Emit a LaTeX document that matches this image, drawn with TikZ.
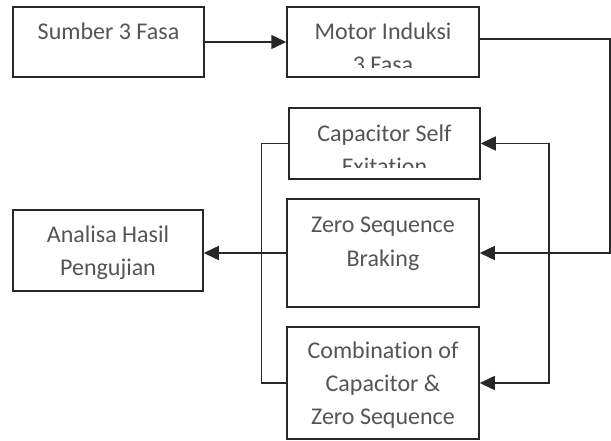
\documentclass[tikz,border=0pt]{standalone}
\usepackage{fontspec}
\setmainfont{Carlito}[Ligatures={NoCommon}]
\usetikzlibrary{arrows.meta,calc}
\definecolor{txt}{RGB}{85,85,85}
\definecolor{ln}{RGB}{40,40,40}
\tikzset{
  box/.style={draw=ln,line width=1.5pt,rectangle,inner sep=0pt},
  lbl/.style={anchor=base,inner sep=0pt,text=txt,font=\fontsize{24}{33}\selectfont},
  conn/.style={draw=ln,line width=1.5pt},
  arr/.style={conn,-{Triangle[length=15pt,width=14pt]}},
}
\begin{document}
\begin{tikzpicture}[x=1pt,y=1pt]
\useasboundingbox (0,0) rectangle (611,-441);
\fill[white] (0,0) rectangle (611,-441);
% boxes
\node[box,minimum width=191pt,minimum height=70pt] (sumber) at (108.5,-42) {};
\node[box,minimum width=192pt,minimum height=70pt] (motor) at (383,-42) {};
\node[box,minimum width=191pt,minimum height=71pt] (cap) at (384.5,-143.5) {};
\node[box,minimum width=192pt,minimum height=108pt] (zero) at (383,-253) {};
\node[box,minimum width=192pt,minimum height=112pt] (comb) at (383,-383) {};
\node[box,minimum width=190pt,minimum height=81pt] (analisa) at (108,-250.5) {};
% texts
\node[lbl] (sumber-t) at (108.5,-40) {Sumber 3 Fasa};
\node[lbl] (motor-t1) at (383,-40) {Motor Induksi};
\begin{scope}
  \clip (280,-50) rectangle (490,-68);
  \node[lbl] (motor-t2) at (383,-73) {3 Fasa};
\end{scope}
\node[lbl] (cap-t1) at (384.5,-142) {Capacitor Self};
\begin{scope}
  \clip (280,-150) rectangle (490,-168);
  \node[lbl] (cap-t2) at (384.5,-175) {Exitation};
\end{scope}
\node[lbl] (zero-t1) at (383,-233) {Zero Sequence};
\node[lbl] (zero-t2) at (383,-266) {Braking};
\node[lbl] (comb-t1) at (383,-358) {Combination of};
\node[lbl] (comb-t2) at (383,-391) {Capacitor \&};
\node[lbl] (comb-t3) at (383,-424) {Zero Sequence};
\node[lbl] (analisa-t1) at (108,-243) {Analisa Hasil};
\node[lbl] (analisa-t2) at (108,-276) {Pengujian};
% connectors
\draw[arr] (sumber.east) -- (motor.west);
\draw[arr] ([yshift=3pt]motor.east) -- ++(130,0) |- (zero.east);
\coordinate (rt) at (549,-143.5);
\coordinate (rb) at (549,-383);
\draw[conn,{Triangle[length=15pt,width=14pt]}-{Triangle[length=15pt,width=14pt]}] (cap.east) -- (rt) -- (rb) -- (comb.east);
\draw[conn] (cap.west) -- ++(-27,0) |- (comb.west);
\draw[arr] (zero.west) -- (zero.west -| analisa.east);
\end{tikzpicture}
\end{document}
